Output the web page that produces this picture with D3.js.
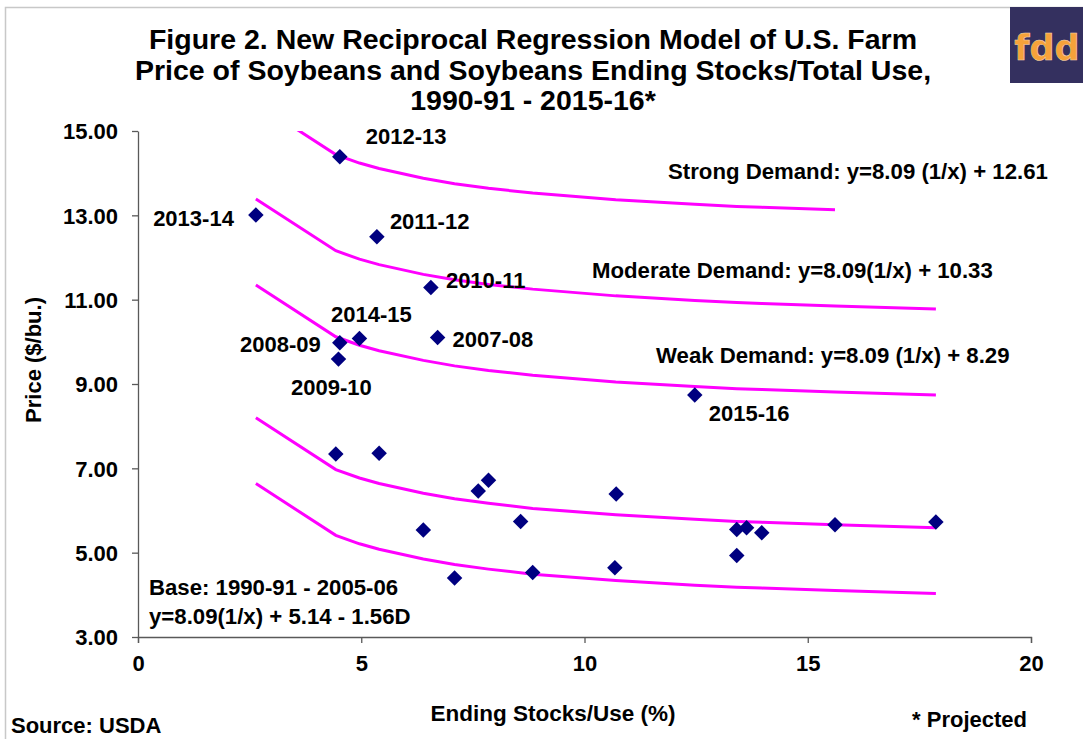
<!DOCTYPE html>
<html>
<head>
<meta charset="utf-8">
<style>
  body { margin: 0; background: #ffffff; }
  svg { display: block; font-family: "Liberation Sans", Arial, sans-serif; font-weight: bold; }
  .axis path, .axis line { stroke: #595959; stroke-width: 1.3; }
  .axis text { fill: #000; font-size: 22px; font-weight: bold; font-family: "Liberation Sans", Arial, sans-serif; }
</style>
</head>
<body>
<svg id="chart" width="1083" height="739"></svg>
<script src="https://cdn.jsdelivr.net/npm/d3@7"></script>
<script>
// base period points 1990-91 .. 2005-06 (unlabelled)
let baseStocks = [4.43, 5.40, 7.85, 7.62, 10.71, 6.39, 8.57, 7.09, 8.84, 10.68, 13.41, 13.63, 13.97, 13.41, 15.61, 17.87]
let basePrice  = [7.34, 7.36, 6.72, 6.46, 6.39, 5.54, 5.74, 4.40, 4.53, 4.64, 5.55, 5.59, 5.47, 4.93, 5.66, 5.73]

// recent marketing years (labelled)
let recentSeasons = ["2007-08", "2008-09", "2009-10", "2010-11", "2011-12", "2012-13", "2013-14", "2014-15", "2015-16"]
let recentStocks  = [6.71, 4.52, 4.49, 6.56, 5.35, 4.52, 2.64, 4.96, 12.47]
let recentPrice   = [10.10, 9.98, 9.59, 11.29, 12.49, 14.39, 13.01, 10.08, 8.74]

// regression curves read at these stocks/use values
let curveStocks   = [2.64, 4.43, 4.96, 5.40, 6.39, 7.09, 7.85, 8.84, 10.70, 12.47, 13.41, 13.97, 15.61, 17.87]
let strongCurve   = [15.67, 14.44, 14.24, 14.11, 13.88, 13.75, 13.64, 13.53, 13.37, 13.26, 13.21, 13.19, 13.13]
let moderateCurve = [13.39, 12.16, 11.96, 11.83, 11.60, 11.47, 11.36, 11.25, 11.09, 10.98, 10.93, 10.91, 10.85, 10.78]
let weakCurve     = [11.35, 10.12, 9.92, 9.79, 9.56, 9.43, 9.32, 9.21, 9.05, 8.94, 8.89, 8.87, 8.81, 8.74]
let baseCurve     = [8.20, 6.97, 6.77, 6.64, 6.41, 6.28, 6.17, 6.05, 5.90, 5.79, 5.74, 5.72, 5.66, 5.59]
let baseCurveD    = [6.64, 5.41, 5.21, 5.08, 4.85, 4.72, 4.61, 4.49, 4.34, 4.23, 4.18, 4.16, 4.10, 4.03]

let xTicks = [0, 5, 10, 15, 20]
let yTicks = [3, 5, 7, 9, 11, 13, 15]

let titleLines = [
  "Figure 2. New Reciprocal Regression Model of U.S. Farm",
  "Price of Soybeans and Soybeans Ending Stocks/Total Use,",
  "1990-91 - 2015-16*"
]

let svg = d3.select("#chart")

let xScale = d3.scaleLinear().domain([0, 20]).range([138, 1031])
let yScale = d3.scaleLinear().domain([3, 15]).range([637, 131])

// outer frame + logo
svg.append("rect").attr("x", 5.5).attr("y", 7.5).attr("width", 1200).attr("height", 900)
  .attr("fill", "none").attr("stroke", "#c8c8c8").attr("stroke-width", 1.5)
svg.append("rect").attr("x", 1010).attr("y", 7).attr("width", 80).attr("height", 76).attr("fill", "#34305f")
svg.append("text").attr("x", 1047).attr("y", 60).attr("text-anchor", "middle")
  .style("font-family", "'DejaVu Sans', sans-serif").style("font-size", "35px").style("font-weight", "bold")
  .attr("fill", "#f6a23a").attr("stroke", "#f3d9b8").attr("stroke-width", 0.5)
  .text("fdd")

// title
svg.append("text").attr("x", 533).attr("text-anchor", "middle")
  .style("font-size", "28.5px")
  .selectAll("tspan").data(titleLines).enter().append("tspan")
  .attr("x", 533).attr("y", (d, i) => 49 + i * 30.5).text(d => d)

// clip for curves
svg.append("clipPath").attr("id", "plotClip").append("rect")
  .attr("x", 138).attr("y", 131).attr("width", 893).attr("height", 506)

// axes
svg.append("g").attr("class", "axis").attr("transform", "translate(0,637)")
  .call(d3.axisBottom(xScale).tickValues(xTicks).tickSize(6).tickSizeOuter(6).tickPadding(12).tickFormat(d3.format("d")))
svg.append("g").attr("class", "axis").attr("transform", "translate(138,0)")
  .call(d3.axisLeft(yScale).tickValues(yTicks).tickSize(6).tickSizeOuter(0).tickPadding(14).tickFormat(d3.format(".2f")))
  .call(g => g.selectAll(".tick text").attr("dy", "0.36em"))

// curves
let curves = [strongCurve, moderateCurve, weakCurve, baseCurve, baseCurveD]
let line = d3.line().x(d => xScale(d[0])).y(d => yScale(d[1]))
svg.append("g").attr("clip-path", "url(#plotClip)")
  .selectAll("path").data(curves).enter().append("path")
  .attr("d", c => line(c.map((v, i) => [curveStocks[i], v])))
  .attr("fill", "none").attr("stroke", "#ff00ff").attr("stroke-width", 3)

// markers
let diamond = d3.symbol().type(d3.symbolSquare).size(120)
let points = baseStocks.map((s, i) => [s, basePrice[i]])
  .concat(recentStocks.map((s, i) => [s, recentPrice[i]]))
svg.append("g").selectAll("path").data(points).enter().append("path")
  .attr("d", diamond)
  .attr("transform", d => `translate(${xScale(d[0])},${yScale(d[1])}) rotate(45)`)
  .attr("fill", "#000080")

// data labels, offsets in px from their marker
let labelPos = {
  "2007-08": [15, 9, "start"],
  "2008-09": [-19, 9, "end"],
  "2009-10": [-7, 36, "middle"],
  "2010-11": [15, 1, "start"],
  "2011-12": [13, -8, "start"],
  "2012-13": [26, -13, "start"],
  "2013-14": [-22, 11, "end"],
  "2014-15": [12, -16, "middle"],
  "2015-16": [14, 26, "start"]
}
svg.append("g").selectAll("text").data(recentSeasons).enter().append("text")
  .attr("x", (d, i) => xScale(recentStocks[i]) + labelPos[d][0])
  .attr("y", (d, i) => yScale(recentPrice[i]) + labelPos[d][1])
  .attr("text-anchor", d => labelPos[d][2])
  .style("font-size", "22px")
  .text(d => d)

// equation notes
let notes = [
  ["Strong Demand: y=8.09 (1/x) + 12.61", 668, 179],
  ["Moderate Demand: y=8.09(1/x) + 10.33", 592, 278],
  ["Weak Demand: y=8.09 (1/x) + 8.29", 656, 363],
  ["Base: 1990-91 - 2005-06", 149, 595],
  ["y=8.09(1/x) + 5.14 - 1.56D", 149, 624]
]
svg.append("g").selectAll("text").data(notes).enter().append("text")
  .attr("x", d => d[1]).attr("y", d => d[2])
  .style("font-size", "22.2px")
  .text(d => d[0])

// axis titles and footnotes
svg.append("text").attr("transform", "translate(41,360) rotate(-90)").attr("text-anchor", "middle")
  .style("font-size", "22px").text("Price ($/bu.)")
svg.append("text").attr("x", 553).attr("y", 721).attr("text-anchor", "middle")
  .style("font-size", "22.5px").text("Ending Stocks/Use (%)")
svg.append("text").attr("x", 11).attr("y", 733).style("font-size", "22px").text("Source: USDA")
svg.append("text").attr("x", 1027).attr("y", 727).attr("text-anchor", "end")
  .style("font-size", "22px").text("* Projected")
</script>
</body>
</html>
